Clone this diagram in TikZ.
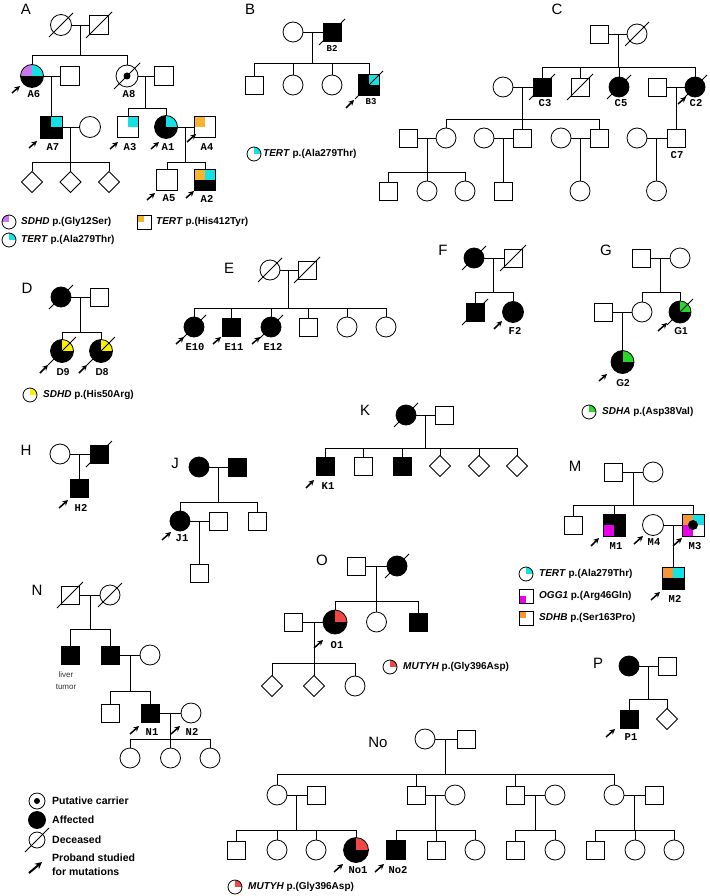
\documentclass[tikz,border=0pt]{standalone}
\usepackage{fontspec}
\setmainfont{Liberation Sans}
\newfontfamily\monof{Liberation Mono}
\usetikzlibrary{shapes.geometric,arrows.meta,calc}
\definecolor{cpurp}{RGB}{200,120,235}
\definecolor{ccyan}{RGB}{20,225,230}
\definecolor{corA}{RGB}{248,180,45}
\definecolor{corM}{RGB}{245,150,55}
\definecolor{cyel}{RGB}{250,240,0}
\definecolor{cgrn}{RGB}{40,215,40}
\definecolor{cmag}{RGB}{235,0,235}
\definecolor{cred}{RGB}{240,70,70}
\newcommand\decd[2]{\draw[ln] (#1.center) ++(-#2,#2) -- ++(2*#2,-2*#2);}
\newcommand\prb[4]{\draw[parr] (#1,#2) -- (#3,#4);}
\newcommand\sibline[4]{\path (0,#2) coordinate (yy); \draw[ln] (#1) -- (#1 |- yy); \draw[ln] (#3.north) -- (#3.north |- yy) -- (#4.north |- yy) -- (#4.north);}
\newcommand\sibdrop[1]{\foreach \cc in {#1}{\draw[ln] (\cc.north) -- (\cc.north |- yy);}}
\newcommand\couple[3]{\draw[ln] (#1) -- (#2); \coordinate (#3) at ($(#1)!.5!(#2)$);}
\begin{document}
\begin{tikzpicture}[x=1pt,y=-1pt,
 ln/.style={line width=0.8pt},
 pbase/.style={draw=black, line width=0.8pt, inner sep=0pt, outer sep=0pt, fill=white},
 ms/.style={pbase, rectangle, minimum size=#1}, ms/.default=18,
 fc/.style={pbase, circle, minimum size=#1}, fc/.default=20,
 ud/.style={pbase, diamond, shape aspect=1, minimum size=#1}, ud/.default=21,
 aff/.style={fill=black},
 quads/.style n args={4}{path picture={
   \fill[#1] (path picture bounding box.center) rectangle (path picture bounding box.north west);
   \fill[#2] (path picture bounding box.center) rectangle (path picture bounding box.north east);
   \fill[#3] (path picture bounding box.center) rectangle (path picture bounding box.south west);
   \fill[#4] (path picture bounding box.center) rectangle (path picture bounding box.south east);}},
 ped/.style={font=\fontsize{15}{15}\selectfont, inner sep=0pt},
 lab/.style={font=\monof\bfseries\fontsize{10.5}{10.5}\selectfont, inner sep=0pt},
 labb/.style={font=\monof\bfseries\fontsize{9}{9}\selectfont, inner sep=0pt},
 labs/.style={font=\bfseries\fontsize{10}{10}\selectfont, inner sep=0pt},
 leg/.style={font=\bfseries\fontsize{10}{10}\selectfont, inner sep=0pt, anchor=west},
 small/.style={font=\fontsize{8}{8}\selectfont, inner sep=0pt, text=black!80},
 parr/.style={line width=1.5pt, -{Stealth[length=5.5pt,width=5.5pt]}},
]
\fill[white] (0,0) rectangle (709,896);
\useasboundingbox (0,0) rectangle (709,896);

% ================= A
\node[ped] (tA) at (26,9) {A};
\node[fc=21] (AI1) at (61,25) {};
\node[ms=19] (AI2) at (99,25) {};
\decd{AI1}{12}\decd{AI2}{13}
\couple{AI1}{AI2}{Am}
\node[fc=23, quads={cpurp}{ccyan}{black}{black}] (A6) at (32,76) {};
\node[ms=19] (A6s) at (70,76) {};
\node[fc=22] (A8) at (127,76) {};
\fill (A8) circle[radius=3.5pt];
\decd{A8}{13}
\node[ms=19] (A8s) at (164,76) {};
\sibline{Am}{55}{A6}{A8}
\couple{A6}{A6s}{Am6}
\couple{A8}{A8s}{Am8}
\node[ms=22, quads={black}{ccyan}{black}{black}] (A7) at (51,127) {};
\draw[ln] (Am6) -- (A7.north);
\node[fc=21] (A7s) at (90,127) {};
\couple{A7}{A7s}{Am7}
\node[ud] (Ad1) at (32,182) {};
\node[ud] (Ad2) at (70.5,182) {};
\node[ud] (Ad3) at (109,182) {};
\sibline{Am7}{162}{Ad1}{Ad3}\sibdrop{Ad2}
\node[ms=21, quads={white}{ccyan}{white}{white}] (A3) at (128,127) {};
\node[fc=23, quads={black}{ccyan}{black}{black}] (A1) at (166,127) {};
\sibline{Am8}{108}{A3}{A1}
\node[ms=21, quads={corA}{white}{white}{white}] (A4) at (205,127) {};
\couple{A1}{A4}{Am1}
\node[ms=21] (A5) at (167,180) {};
\node[ms=21, quads={corA}{ccyan}{black}{black}] (A2) at (205,180) {};
\sibline{Am1}{162}{A5}{A2}
\node[lab] (lA6) at (34,94) {A6};
\node[lab] (lA8) at (129,94) {A8};
\node[lab] (lA7) at (53,147) {A7};
\node[lab] (lA3) at (130,147) {A3};
\node[lab] (lA1) at (168,147) {A1};
\node[lab] (lA4) at (207,147) {A4};
\node[lab] (lA5) at (169,198) {A5};
\node[lab] (lA2) at (207,199) {A2};
\prb{12}{93}{20}{86}
\prb{29}{148}{37}{141}
\prb{110}{149}{118}{142}
\prb{151}{149}{159}{142}
\prb{187}{142}{196}{134}
\prb{147}{200}{155}{193}
\prb{186}{198}{194}{191}
% legend A
\node[fc=14, quads={cpurp}{white}{white}{white}] (LA1) at (9,222) {};
\node[leg] (LA1t) at (21,222) {\textit{SDHD} p.(Gly12Ser)};
\node[fc=14, quads={white}{ccyan}{white}{white}] (LA2) at (9,240) {};
\node[leg] (LA2t) at (21,240) {\textit{TERT} p.(Ala279Thr)};
\node[ms=14, quads={corA}{white}{white}{white}] (LA3) at (144,222) {};
\node[leg] (LA3t) at (156,222) {\textit{TERT} p.(His412Tyr)};

% ================= B
\node[ped] (tB) at (250,9) {B};
\node[fc] (BI1) at (293,32) {};
\node[ms, aff] (B2) at (332,32) {};
\decd{B2}{13}
\couple{BI1}{B2}{Bm}
\node[ms] (Bc1) at (254,85) {};
\node[fc] (Bc2) at (293,85) {};
\node[fc] (Bc3) at (332,85) {};
\node[ms=21, quads={black}{ccyan}{black}{black}] (B3) at (369,85) {};
\decd{B3}{14}
\sibline{Bm}{63}{Bc1}{B3}\sibdrop{Bc2,Bc3}
\node[labb] (lB2) at (332,48) {B2};
\node[labb] (lB3) at (371,102) {B3};
\prb{346}{108}{354}{100}
\node[fc=14, quads={white}{ccyan}{white}{white}] (LB) at (254,154) {};
\node[leg] (LBt) at (263,154) {\textit{TERT} p.(Ala279Thr)};

% ================= C
\node[ped] (tC) at (557,9) {C};
\node[ms] (CI1) at (599,34) {};
\node[fc] (CI2) at (637,34) {};
\decd{CI2}{12}
\couple{CI1}{CI2}{Cm}
\node[fc] (C3s) at (503,87) {};
\node[ms, aff] (C3) at (542,87) {};
\decd{C3}{13}
\node[ms] (Cx) at (580,87) {};
\decd{Cx}{13}
\node[fc, aff] (C5) at (619,87) {};
\decd{C5}{12}
\node[ms] (C2s) at (657,87) {};
\node[fc, aff] (C2) at (695,87) {};
\decd{C2}{12}
\sibline{Cm}{67}{C3}{C2}\sibdrop{Cx,C5}
\couple{C3s}{C3}{Cm3}
\couple{C2s}{C2}{Cm2}
\node[ms] (C31s) at (408,138) {};
\node[fc] (C31) at (446,138) {};
\node[fc] (C32s) at (484,138) {};
\node[ms] (C32) at (522,138) {};
\node[fc] (C33s) at (561,138) {};
\node[ms] (C33) at (599,138) {};
\sibline{Cm3}{119}{C31}{C33}\sibdrop{C32}
\node[fc] (C7s) at (637,138) {};
\node[ms] (C7) at (676,138) {};
\draw[ln] (Cm2) -- (C7.north);
\couple{C31s}{C31}{Cm31}
\couple{C32s}{C32}{Cm32}
\couple{C33s}{C33}{Cm33}
\couple{C7s}{C7}{Cm7}
\node[ms] (C311) at (388,191) {};
\node[fc] (C312) at (427,191) {};
\node[fc] (C313) at (465,191) {};
\sibline{Cm31}{172}{C311}{C313}\sibdrop{C312}
\node[ms] (C321) at (503,191) {};
\draw[ln] (Cm32) -- (C321.north);
\node[fc] (C331) at (580,191) {};
\draw[ln] (Cm33) -- (C331.north);
\node[fc] (C71) at (656.5,191) {};
\draw[ln] (Cm7) -- (C71.north);
\node[lab] (lC3) at (545,103) {C3};
\node[lab] (lC5) at (621,103) {C5};
\node[lab] (lC2) at (696,103) {C2};
\node[lab] (lC7) at (677,155) {C7};
\prb{678}{104}{686}{97}

% ================= D
\node[ped] (tD) at (27,288) {D};
\node[fc, aff] (DI1) at (61,297) {};
\decd{DI1}{12}
\node[ms] (DI2) at (99,297) {};
\couple{DI1}{DI2}{Dm}
\node[fc=23, quads={black}{cyel}{black}{black}] (D9) at (62,351) {};
\node[fc=23, quads={black}{cyel}{black}{black}] (D8) at (101,351) {};
\decd{D9}{14}\decd{D8}{14}
\sibline{Dm}{332}{D9}{D8}
\node[labs] (lD9) at (63,372) {D9};
\node[labs] (lD8) at (102,372) {D8};
\prb{40}{373}{48}{365}
\prb{79}{373}{87}{365}
\node[fc=14, quads={white}{cyel}{white}{white}] (LD) at (30,395) {};
\node[leg] (LDt) at (43,395) {\textit{SDHD} p.(His50Arg)};

% ================= E
\node[ped] (tE) at (229,268) {E};
\node[fc] (EI1) at (270,270) {};
\node[ms] (EI2) at (307,270) {};
\decd{EI1}{12}\decd{EI2}{13}
\couple{EI1}{EI2}{Em}
\node[fc, aff] (E10) at (194,327) {};
\node[ms, aff] (E11) at (231,327) {};
\node[fc, aff] (E12) at (271,327) {};
\node[ms] (Ec4) at (308,327) {};
\node[fc] (Ec5) at (347,327) {};
\node[fc] (Ec6) at (386,327) {};
\decd{E10}{12}\decd{E12}{12}
\sibline{Em}{308}{E10}{Ec6}\sibdrop{E11,E12,Ec4,Ec5}
\node[lab] (lE10) at (195,347) {E10};
\node[lab] (lE11) at (234,347) {E11};
\node[lab] (lE12) at (273,347) {E12};
\prb{176}{344}{184}{337}
\prb{213}{344}{221}{337}
\prb{252}{344}{260}{337}

% ================= F
\node[ped] (tF) at (443,250) {F};
\node[fc, aff] (FI1) at (474,258) {};
\node[ms] (FI2) at (513,258) {};
\decd{FI1}{12}\decd{FI2}{13}
\couple{FI1}{FI2}{Fm}
\node[ms, aff] (Fc1) at (475,312) {};
\decd{Fc1}{13}
\node[fc=21, aff] (F2) at (513,312) {};
\sibline{Fm}{292}{Fc1}{F2}
\node[lab] (lF2) at (515,331) {F2};
\prb{494}{329}{502}{321}

% ================= G
\node[ped] (tG) at (606,250) {G};
\node[ms] (GI1) at (641,258) {};
\node[fc] (GI2) at (680,258) {};
\couple{GI1}{GI2}{Gm}
\node[fc] (Gc1) at (642,312) {};
\node[fc=22, quads={black}{cgrn}{black}{black}] (G1) at (680,312) {};
\decd{G1}{13}
\sibline{Gm}{292}{Gc1}{G1}
\node[ms] (Gc1s) at (603,312) {};
\couple{Gc1s}{Gc1}{Gm1}
\node[fc=23, quads={black}{cgrn}{black}{black}] (G2) at (622.5,362) {};
\draw[ln] (Gm1) -- (G2.north);
\node[labs] (lG1) at (681,331) {G1};
\node[labs] (lG2) at (623,383) {G2};
\prb{658}{331}{667}{323}
\prb{599}{381}{607}{374}
\node[fc=14, quads={white}{cgrn}{white}{white}] (LG) at (589,412) {};
\node[leg] (LGt) at (602,412) {\textit{SDHA} p.(Asp38Val)};

% ================= H
\node[ped] (tH) at (26,450) {H};
\node[fc] (HI1) at (60,454) {};
\node[ms, aff] (HI2) at (99,454) {};
\decd{HI2}{13}
\couple{HI1}{HI2}{Hm}
\node[ms, aff] (H2) at (79.5,488) {};
\draw[ln] (Hm) -- (H2.north);
\node[lab] (lH2) at (81,508) {H2};
\prb{59}{508}{68}{500}

% ================= J
\node[ped] (tJ) at (175,463) {J};
\node[fc, aff] (JI1) at (199,467) {};
\node[ms, aff] (JI2) at (237,467) {};
\couple{JI1}{JI2}{Jm}
\node[fc, aff] (J1) at (180,521) {};
\node[ms] (Jc2) at (257,521) {};
\sibline{Jm}{502}{J1}{Jc2}
\node[ms] (J1s) at (218,521) {};
\couple{J1}{J1s}{Jm1}
\node[ms] (Jc3) at (199,573) {};
\draw[ln] (Jm1) -- (Jc3.north);
\node[lab] (lJ1) at (182,538) {J1};
\prb{162}{540}{171}{532}

% ================= K
\node[ped] (tK) at (365,410) {K};
\node[fc, aff] (KI1) at (406,415) {};
\decd{KI1}{12}
\node[ms] (KI2) at (444,415) {};
\couple{KI1}{KI2}{Km}
\node[ms, aff] (K1) at (325,466) {};
\node[ms] (Kc2) at (363,466) {};
\node[ms, aff] (Kc3) at (402,466) {};
\node[ud] (Kd1) at (440,466) {};
\node[ud] (Kd2) at (479,466) {};
\node[ud] (Kd3) at (517,466) {};
\sibline{Km}{448}{K1}{Kd3}\sibdrop{Kc2,Kc3,Kd1,Kd2}
\node[lab] (lK1) at (328,486) {K1};
\prb{306}{488}{314}{480}

% ================= M
\node[ped] (tM) at (575,466) {M};
\node[ms] (MI1) at (613,472) {};
\node[fc] (MI2) at (653,472) {};
\couple{MI1}{MI2}{Mm}
\node[ms] (Mc1) at (573,525) {};
\node[ms=22, quads={black}{black}{cmag}{black}] (M1) at (614,525) {};
\node[ms=22, quads={corM}{ccyan}{cmag}{white}] (M3) at (693,525) {};
\fill (M3) circle[radius=5pt];
\sibline{Mm}{505}{Mc1}{M3}\sibdrop{M1}
\node[fc=21] (M4) at (653,525) {};
\couple{M4}{M3}{Mm3}
\node[ms=22, quads={corM}{ccyan}{black}{black}] (M2) at (673,578) {};
\draw[ln] (Mm3) -- (M2.north);
\node[lab] (lM1) at (616,546) {M1};
\node[lab] (lM4) at (654,542) {M4};
\node[lab] (lM3) at (695,546) {M3};
\node[lab] (lM2) at (675,599) {M2};
\prb{591}{546}{599}{538}
\prb{634}{544}{643}{536}
\prb{673}{546}{682}{538}
\prb{651}{600}{660}{592}
\node[fc=14, quads={white}{ccyan}{white}{white}] (LM1) at (526,574) {};
\node[leg] (LM1t) at (539,574) {\textit{TERT} p.(Ala279Thr)};
\node[ms=14, quads={white}{white}{cmag}{white}] (LM2) at (526,596) {};
\node[leg] (LM2t) at (539,596) {\textit{OGG1} p.(Arg46Gln)};
\node[ms=14, quads={corM}{white}{white}{white}] (LM3) at (526,618) {};
\node[leg] (LM3t) at (539,618) {\textit{SDHB} p.(Ser163Pro)};

% ================= N
\node[ped] (tN) at (37,590) {N};
\node[ms] (NI1) at (70,595) {};
\node[fc] (NI2) at (110,595) {};
\decd{NI1}{13}\decd{NI2}{12}
\couple{NI1}{NI2}{Nm}
\node[ms, aff] (Nc1) at (70,655) {};
\node[ms, aff] (Nc2) at (110,655) {};
\sibline{Nm}{629}{Nc1}{Nc2}
\node[small] (Nlt1) at (66,675) {liver};
\node[small] (Nlt2) at (66,687) {tumor};
\node[fc] (Nc2s) at (150,655) {};
\couple{Nc2}{Nc2s}{Nm2}
\node[ms] (Nc21) at (110,713) {};
\node[ms, aff] (N1) at (150,713) {};
\sibline{Nm2}{691}{Nc21}{N1}
\node[fc] (N2) at (191,713) {};
\couple{N1}{N2}{Nm1}
\node[fc] (Ng1) at (130,758) {};
\node[fc] (Ng2) at (170.5,758) {};
\node[fc] (Ng3) at (210,758) {};
\sibline{Nm1}{739}{Ng1}{Ng3}\sibdrop{Ng2}
\node[lab] (lN1) at (152,732) {N1};
\node[lab] (lN2) at (192,732) {N2};
\prb{130}{734}{139}{726}
\prb{171}{734}{180}{726}

% ================= O
\node[ped] (tO) at (322,560) {O};
\node[ms] (OI1) at (356,566) {};
\node[fc, aff] (OI2) at (397,566) {};
\decd{OI2}{12}
\couple{OI1}{OI2}{Om}
\node[fc=24, quads={black}{cred}{black}{black}] (O1) at (335,622) {};
\node[fc] (Oc2) at (376.5,622) {};
\node[ms, aff] (Oc3) at (418,622) {};
\sibline{Om}{601}{O1}{Oc3}\sibdrop{Oc2}
\node[ms] (O1s) at (293,622) {};
\couple{O1s}{O1}{Om1}
\node[ud] (Od1) at (272,686) {};
\node[ud] (Od2) at (314,686) {};
\node[fc] (Oc4) at (355,686) {};
\sibline{Om1}{663}{Od1}{Oc4}\sibdrop{Od2}
\node[lab] (lO1) at (337,645) {O1};
\prb{314}{648}{323}{640}
\node[fc=14, quads={white}{cred}{white}{white}] (LO) at (390,667) {};
\node[leg] (LOt) at (403,667) {\textit{MUTYH} p.(Gly396Asp)};

% ================= P
\node[ped] (tP) at (598,663) {P};
\node[fc, aff] (PI1) at (629,666) {};
\node[ms] (PI2) at (667,666) {};
\couple{PI1}{PI2}{Pm}
\node[ms, aff] (P1) at (629,719) {};
\node[ud] (Pd) at (667,719) {};
\sibline{Pm}{699}{P1}{Pd}
\node[lab] (lP1) at (631,737) {P1};
\prb{606}{737}{615}{729}

% ================= No
\node[ped] (tNo) at (378,742) {No};
\node[fc] (NoI1) at (425,739) {};
\node[ms] (NoI2) at (466,739) {};
\couple{NoI1}{NoI2}{Nom}
\node[fc] (Na1) at (277,795) {};
\node[ms] (Na1s) at (316,795) {};
\node[ms] (Na2) at (416,795) {};
\node[fc] (Na2s) at (455,795) {};
\node[ms] (Na3) at (515,795) {};
\node[fc] (Na3s) at (555,795) {};
\node[fc] (Na4) at (614,795) {};
\node[ms] (Na4s) at (654,795) {};
\sibline{Nom}{774}{Na1}{Na4}\sibdrop{Na2,Na3}
\couple{Na1}{Na1s}{Nam1}
\couple{Na2}{Na2s}{Nam2}
\couple{Na3}{Na3s}{Nam3}
\couple{Na4}{Na4s}{Nam4}
\node[ms] (Nb11) at (236,850) {};
\node[fc] (Nb12) at (277,850) {};
\node[fc] (Nb13) at (316,850) {};
\node[fc=25, quads={black}{cred}{black}{black}] (No1) at (356,850) {};
\sibline{Nam1}{830}{Nb11}{No1}\sibdrop{Nb12,Nb13}
\node[ms=19, aff] (No2) at (396,850) {};
\node[ms] (Nb22) at (436,850) {};
\node[fc] (Nb23) at (475,850) {};
\sibline{Nam2}{830}{No2}{Nb23}\sibdrop{Nb22}
\node[ms] (Nb31) at (515,850) {};
\node[fc] (Nb32) at (555,850) {};
\sibline{Nam3}{830}{Nb31}{Nb32}
\node[ms] (Nb41) at (595,850) {};
\node[fc] (Nb42) at (635,850) {};
\node[fc] (Nb43) at (674,850) {};
\sibline{Nam4}{830}{Nb41}{Nb43}\sibdrop{Nb42}
\node[lab] (lNo1) at (358,870) {No1};
\node[lab] (lNo2) at (398,870) {No2};
\prb{334}{872}{343}{864}
\prb{375}{872}{384}{864}
\node[fc=14, quads={white}{cred}{white}{white}] (LNo) at (235,887) {};
\node[leg] (LNot) at (248,887) {\textit{MUTYH} p.(Gly396Asp)};

% ================= general legend
\node[fc=16] (LGp) at (37,801) {};
\fill (LGp) circle[radius=3pt];
\node[leg, font=\bfseries\fontsize{10.5}{10.5}\selectfont] (LGpt) at (52,801) {Putative carrier};
\node[fc=17, aff] (LGa) at (37,820) {};
\node[leg, font=\bfseries\fontsize{10.5}{10.5}\selectfont] (LGat) at (52,820) {Affected};
\node[fc=16] (LGd) at (37,840) {};
\decd{LGd}{12}
\node[leg, font=\bfseries\fontsize{10.5}{10.5}\selectfont] (LGdt) at (52,840) {Deceased};
\draw[line width=2pt, -{Stealth[length=7pt,width=7pt]}] (29,873) -- (42,862);
\node[leg, font=\bfseries\fontsize{10.5}{10.5}\selectfont] (LGr1) at (52,858) {Proband studied};
\node[leg, font=\bfseries\fontsize{10.5}{10.5}\selectfont] (LGr2) at (52,872) {for mutations};
\end{tikzpicture}
\end{document}
